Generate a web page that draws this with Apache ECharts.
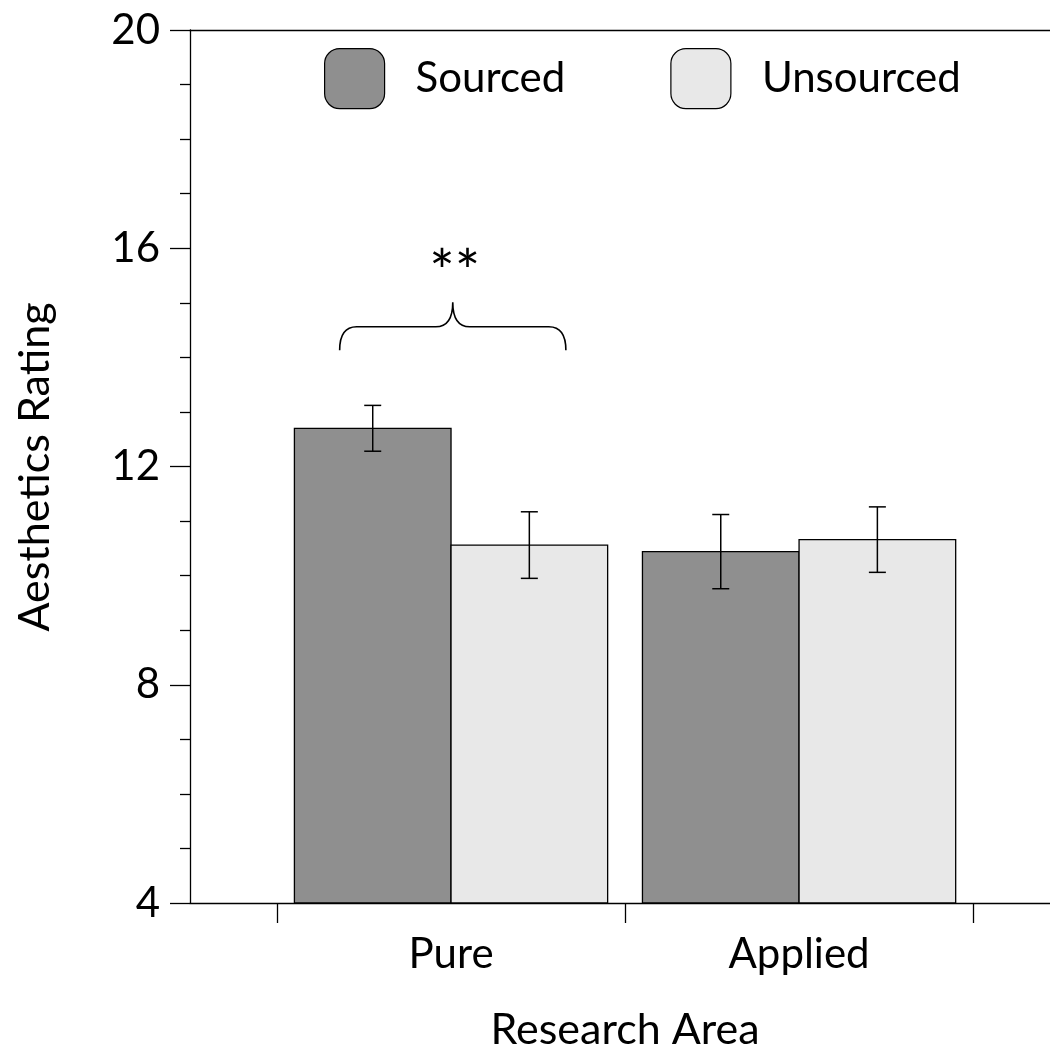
<!DOCTYPE html>
<html><head><meta charset="utf-8">
<script src="https://cdn.jsdelivr.net/npm/echarts@6/dist/echarts.min.js"></script>
<style>html,body{margin:0;padding:0;background:#fff}#c{width:1050px;height:1054px}</style>
</head><body><div id="c"></div>
<script>
// ---- data ----
const categories = ['Pure', 'Applied'];
const seriesNames = ['Sourced', 'Unsourced'];
const sourcedMean = [12.70, 10.44];
const sourcedErr = [0.42, 0.68];
const unsourcedMean = [10.56, 10.66];
const unsourcedErr = [0.61, 0.60];
const yTicks = [4, 8, 12, 16, 20];
const xAxisTitle = 'Research Area';
const yAxisTitle = 'Aesthetics Rating';
// significance brace over the "Pure" group
const braceCategory = [0];
const braceSpan = [-0.32, 0.33];
const braceLevels = [14.13, 14.56, 15.01];
const braceLabel = ['**'];
const braceLabelY = [15.53];

const FONT = 'Lato';
const colors = ['#8f8f8f', '#e8e8e8'];
const halfW = 0.45;

function barSeries(idx, means, errs) {
  const side = idx === 0 ? -1 : 1;
  return {
    type: 'custom',
    name: seriesNames[idx],
    itemStyle: { color: colors[idx], borderColor: '#000', borderWidth: 1 },
    data: means.map((m, i) => [i + 1, m, errs[i]]),
    encode: { x: 0, y: 1 },
    clip: false,
    renderItem(params, api) {
      const x = api.value(0), v = api.value(1), e = api.value(2);
      const x0 = side < 0 ? x - halfW : x;
      const x1 = side < 0 ? x : x + halfW;
      const p0 = api.coord([x0, v]);
      const p1 = api.coord([x1, yTicks[0]]);
      const cx = api.coord([x + side * halfW / 2, v])[0];
      const top = api.coord([x, v + e])[1];
      const bot = api.coord([x, v - e])[1];
      const cap = 8.5;
      const ls = { stroke: '#000', lineWidth: 1.5 };
      return {
        type: 'group',
        children: [
          { type: 'rect', shape: { x: p0[0], y: p0[1], width: p1[0] - p0[0], height: p1[1] - p0[1] },
            style: { fill: colors[idx], stroke: '#000', lineWidth: 1.3 } },
          { type: 'line', shape: { x1: cx, y1: top, x2: cx, y2: bot }, style: ls },
          { type: 'line', shape: { x1: cx - cap, y1: top, x2: cx + cap, y2: top }, style: ls },
          { type: 'line', shape: { x1: cx - cap, y1: bot, x2: cx + cap, y2: bot }, style: ls }
        ]
      };
    }
  };
}

const braceSeries = {
  type: 'custom',
  name: 'brace',
  silent: true,
  clip: false,
  data: braceCategory.map((c, i) => [c + 1, braceLevels[1], i]),
  encode: { x: 0, y: 1 },
  renderItem(params, api) {
    const c = api.value(0);
    const i = api.value(2);
    const xl = api.coord([c + braceSpan[0], braceLevels[0]]);
    const xr = api.coord([c + braceSpan[1], braceLevels[0]]);
    const yH = api.coord([c, braceLevels[1]])[1];
    const tip = api.coord([c + (braceSpan[0] + braceSpan[1]) / 2, braceLevels[2]]);
    const r = 17;
    const yE = xl[1];
    const d = `M${xl[0]},${yE} Q${xl[0]},${yH} ${xl[0] + r},${yH} L${tip[0] - r},${yH} Q${tip[0]},${yH} ${tip[0]},${tip[1]} ` +
              `M${tip[0]},${tip[1]} Q${tip[0]},${yH} ${tip[0] + r},${yH} L${xr[0] - r},${yH} Q${xr[0]},${yH} ${xr[0]},${yE}`;
    const lab = api.coord([c + (braceSpan[0] + braceSpan[1]) / 2, braceLabelY[i]]);
    return {
      type: 'group',
      children: [
        { type: 'path', shape: { pathData: d }, style: { fill: 'none', stroke: '#000', lineWidth: 1.6 } },
        { type: 'text', x: lab[0] + 2, y: lab[1],
          style: { text: braceLabel[i], fontSize: 60, fontFamily: FONT, fill: '#000', align: 'center', verticalAlign: 'middle' } }
      ]
    };
  }
};

const axisLineStyle = { color: '#000', width: 1.3 };
const chart = echarts.init(document.getElementById('c'), null, { renderer: 'canvas' });
chart.setOption({
  animation: false,
  backgroundColor: '#fff',
  textStyle: { fontFamily: FONT },
  grid: { left: 190, right: 0, top: 30, bottom: 151, containLabel: false },
  legend: {
    left: 324, top: 48, padding: 0,
    itemWidth: 60, itemHeight: 60, itemGap: 105,
    icon: 'roundRect',
    data: seriesNames.map((n, i) => ({ name: n, itemStyle: { color: colors[i], borderColor: '#000', borderWidth: 1.2 } })),
    textStyle: { fontSize: 42, fontFamily: FONT, color: '#000', padding: [0, 0, 0, 26] },
    selectedMode: false
  },
  xAxis: [{
    type: 'value', min: 0.25, max: 2.721, position: 'bottom',
    axisLine: { show: true, lineStyle: axisLineStyle },
    axisTick: { show: true, customValues: [0.5, 1.5, 2.5], length: 20, inside: false, lineStyle: axisLineStyle },
    axisLabel: { customValues: [1, 2], formatter: v => categories[Math.round(v) - 1] || '', fontSize: 42, fontFamily: FONT, color: '#000', margin: 30 },
    splitLine: { show: false }
  }, {
    type: 'value', min: 0.25, max: 2.721, position: 'top',
    axisLine: { show: true, lineStyle: axisLineStyle },
    axisTick: { show: false }, axisLabel: { show: false }, splitLine: { show: false }
  }],
  yAxis: {
    type: 'value', min: yTicks[0], max: yTicks[yTicks.length - 1], interval: yTicks[1] - yTicks[0],
    axisLine: { show: true, lineStyle: axisLineStyle },
    axisTick: { show: true, length: 20, inside: false, lineStyle: axisLineStyle },
    minorTick: { show: true, splitNumber: 4, length: 10, lineStyle: axisLineStyle },
    axisLabel: { fontSize: 42, fontFamily: FONT, color: '#000', margin: 30 },
    splitLine: { show: false }, minorSplitLine: { show: false }
  },
  graphic: [
    { type: 'text', x: 625, y: 1030,
      style: { text: xAxisTitle, fontSize: 43, fontFamily: FONT, fill: '#000', align: 'center', verticalAlign: 'middle' } },
    { type: 'text', x: 35, y: 467, rotation: Math.PI / 2,
      style: { text: yAxisTitle, fontSize: 43, fontFamily: FONT, fill: '#000', align: 'center', verticalAlign: 'middle' } }
  ],
  series: [barSeries(0, sourcedMean, sourcedErr), barSeries(1, unsourcedMean, unsourcedErr), braceSeries]
});
</script></body></html>
